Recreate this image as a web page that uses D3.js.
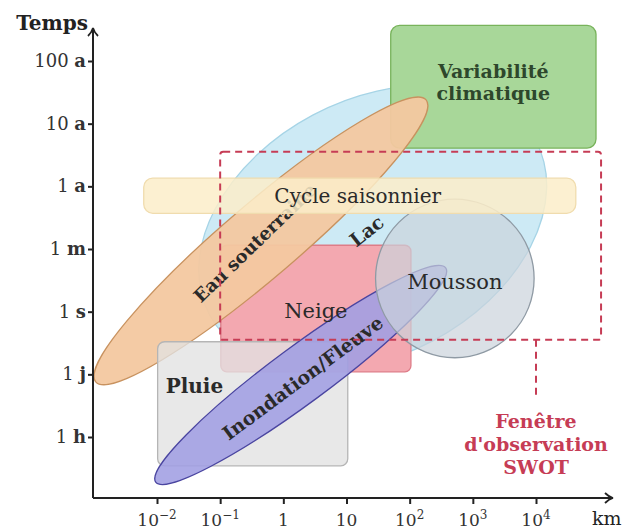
<!DOCTYPE html>
<html><head><meta charset="utf-8">
<script src="https://cdn.jsdelivr.net/npm/d3@7"></script>
<style>body{margin:0;background:#fff}svg{display:block}</style>
</head><body>
<svg id="c" width="626" height="529"></svg>
<script>
// ---------- DATA ----------
// horizontal: log10(km); vertical: time-scale index (0=1 h ... 6=100 a)
const xTickExponents = [-2, -1, 0, 1, 2, 3, 4];
const xTickBase = ["10", "10", "1", "10", "10", "10", "10"];
const xTickSup  = ["−2", "−1", "", "", "2", "3", "4"];

const timeIndex = [0, 1, 2, 3, 4, 5, 6];
const timeNumber = ["1", "1", "1", "1", "1", "10", "100"];
const timeUnit   = ["h", "j", "s", "m", "a", "a", "a"];

const rectNames = ["Variabilité climatique", "Neige", "Pluie", "Cycle saisonnier"];
const rectXMin = [1.70, -0.99, -1.99, -2.21];
const rectXMax = [4.95, 2.02, 1.02, 4.63];
const rectYMin = [4.61, 1.04, -0.46, 3.57];
const rectYMax = [6.57, 3.06, 1.52, 4.13];

const ellipseNames = ["Lac", "Eau souterraine", "Inondation/Fleuve"];
const ellipseX1 = [-1.17, -2.97, -2.02];
const ellipseY1 = [1.95, 0.88, -0.72];
const ellipseX2 = [4.00, 2.26, 2.57];
const ellipseY2 = [4.72, 5.38, 2.70];
const ellipseHalfWidth = [2.04, 0.59, 0.45];

const circleNames = ["Mousson"];
const circleXMin = [1.46];
const circleXMax = [3.97];
const circleY = [2.53];

const swotName = ["Fenêtre", "d'observation", "SWOT"];
const swotX = [-1.0, 5.03];
const swotY = [1.55, 4.55];
const swotLinkX = 4;

// ---------- STYLES ----------
const FONT = "DejaVu Serif";
const style = {
  "Variabilité climatique": {fill: "#a8d799", stroke: "#78b35b", op: 1, rx: 9},
  "Neige": {fill: "#f3a8b0", stroke: "#de7c88", op: 1, rx: 6},
  "Pluie": {fill: "#e2e2e2", stroke: "#b5b5b5", op: 0.78, rx: 7},
  "Cycle saisonnier": {fill: "#fcedc9", stroke: "#f0dcae", op: 0.85, rx: 9},
  "Lac": {fill: "#cdeaf5", stroke: "#a6d4e6", op: 1},
  "Eau souterraine": {fill: "#f3c8a0", stroke: "#c8925f", op: 0.95},
  "Inondation/Fleuve": {fill: "#a09ee3", stroke: "#4a45a0", op: 0.88},
  "Mousson": {fill: "#cbd3dc", stroke: "#8f9aa4", op: 0.7}
};

const svg = d3.select("#c");
const x = d3.scaleLog().domain([1e-2, 1e4]).range([157, 536]);
const y = d3.scaleLinear().domain([0, 6]).range([437, 61]);
const X = v => x(Math.pow(10, v));
const unitY = y(0) - y(1);

const ox = 93, oy = 498, xEnd = 613, yTop = 28;

const gShapes = svg.append("g");

function drawRect(i) {
  const n = rectNames[i], s = style[n];
  gShapes.append("rect")
    .attr("x", X(rectXMin[i])).attr("y", y(rectYMax[i]))
    .attr("width", X(rectXMax[i]) - X(rectXMin[i]))
    .attr("height", y(rectYMin[i]) - y(rectYMax[i]))
    .attr("rx", s.rx).attr("fill", s.fill).attr("fill-opacity", s.op)
    .attr("stroke", s.stroke).attr("stroke-width", 1.3);
}
function ellipseGeom(i) {
  const x1 = X(ellipseX1[i]), y1 = y(ellipseY1[i]), x2 = X(ellipseX2[i]), y2 = y(ellipseY2[i]);
  return {cx: (x1 + x2) / 2, cy: (y1 + y2) / 2, a: Math.hypot(x2 - x1, y2 - y1) / 2,
          b: ellipseHalfWidth[i] * unitY, ang: Math.atan2(y2 - y1, x2 - x1) * 180 / Math.PI};
}
function drawEllipse(i) {
  const n = ellipseNames[i], s = style[n], g = ellipseGeom(i);
  gShapes.append("ellipse")
    .attr("cx", g.cx).attr("cy", g.cy).attr("rx", g.a).attr("ry", g.b)
    .attr("transform", `rotate(${g.ang},${g.cx},${g.cy})`)
    .attr("fill", s.fill).attr("fill-opacity", s.op)
    .attr("stroke", s.stroke).attr("stroke-width", 1.3);
}
function rotLabel(i, txt, size, rot, dx, dy) {
  const g = ellipseGeom(i);
  gShapes.append("text")
    .attr("transform", `translate(${g.cx + dx},${g.cy + dy}) rotate(${rot})`)
    .attr("text-anchor", "middle").attr("dy", "0.35em")
    .attr("font-family", FONT).attr("font-weight", "bold").attr("font-size", size)
    .attr("fill", "#2a2a2a").text(txt);
}

// draw order
drawEllipse(0);            // Lac
drawRect(0);               // Variabilité climatique
drawRect(1);               // Neige
drawEllipse(1);            // Eau souterraine
rotLabel(1, ellipseNames[1], 18, -44, -6, 2);
drawRect(2);               // Pluie
drawEllipse(2);            // Inondation/Fleuve
{
  const s = style["Mousson"];
  const cx = (X(circleXMin[0]) + X(circleXMax[0])) / 2;
  const r = (X(circleXMax[0]) - X(circleXMin[0])) / 2;
  gShapes.append("circle").attr("cx", cx).attr("cy", y(circleY[0])).attr("r", r)
    .attr("fill", s.fill).attr("fill-opacity", s.op)
    .attr("stroke", s.stroke).attr("stroke-width", 1.3);
}
drawRect(3);               // Cycle saisonnier

// SWOT window
const swotColor = "#c63c55";
svg.append("rect")
  .attr("x", X(swotX[0])).attr("y", y(swotY[1]))
  .attr("width", X(swotX[1]) - X(swotX[0])).attr("height", y(swotY[0]) - y(swotY[1]))
  .attr("rx", 3).attr("fill", "none").attr("stroke", swotColor)
  .attr("stroke-width", 2).attr("stroke-dasharray", "7,5");
svg.append("line")
  .attr("x1", X(swotLinkX)).attr("x2", X(swotLinkX))
  .attr("y1", y(swotY[0])).attr("y2", y(swotY[0]) + 58)
  .attr("stroke", swotColor).attr("stroke-width", 2).attr("stroke-dasharray", "7,5");
swotName.forEach((t, k) => {
  svg.append("text").attr("x", X(swotLinkX)).attr("y", 428 + k * 23)
    .attr("text-anchor", "middle").attr("font-family", FONT).attr("font-weight", "bold")
    .attr("font-size", 19).attr("fill", swotColor).text(t);
});

// labels
const lab = svg.append("g").attr("font-family", FONT).attr("fill", "#2a2a2a");
{
  const cx = (X(rectXMin[0]) + X(rectXMax[0])) / 2, cy = (y(rectYMin[0]) + y(rectYMax[0])) / 2;
  const w = rectNames[0].split(" ");
  lab.append("text").attr("x", cx).attr("y", cy - 9).attr("text-anchor", "middle")
    .attr("font-weight", "bold").attr("font-size", 19).attr("fill", "#2e472c").text(w[0]);
  lab.append("text").attr("x", cx).attr("y", cy + 13).attr("text-anchor", "middle")
    .attr("font-weight", "bold").attr("font-size", 19).attr("fill", "#2e472c").text(w[1]);
}
lab.append("text").attr("x", (X(rectXMin[3]) + X(rectXMax[3])) / 2 - 2)
  .attr("y", (y(rectYMin[3]) + y(rectYMax[3])) / 2).attr("dy", "0.35em")
  .attr("text-anchor", "middle").attr("font-size", 20).text(rectNames[3]);
lab.append("text").attr("x", (X(rectXMin[1]) + X(rectXMax[1])) / 2)
  .attr("y", (y(rectYMin[1]) + y(rectYMax[1])) / 2 + 2).attr("dy", "0.35em")
  .attr("text-anchor", "middle").attr("font-size", 21).text(rectNames[1]);
lab.append("text").attr("x", X(rectXMin[2]) + 8).attr("y", y(rectYMax[2]) + 51)
  .attr("font-weight", "bold").attr("font-size", 20).text(rectNames[2]);
lab.append("text").attr("x", (X(circleXMin[0]) + X(circleXMax[0])) / 2)
  .attr("y", y(circleY[0]) + 3).attr("dy", "0.35em")
  .attr("text-anchor", "middle").attr("font-size", 21).text(circleNames[0]);
rotLabel(0, ellipseNames[0], 19, -38, -6, 3);
rotLabel(2, ellipseNames[2], 19, ellipseGeom(2).ang, 2, 3);

// ---------- AXES ----------
const axCol = "#222";
const gx = svg.append("g").attr("transform", `translate(0,${oy})`)
  .call(d3.axisBottom(x).tickValues(xTickExponents.map(e => Math.pow(10, e))).tickSize(6).tickFormat(""));
gx.select(".domain").remove();
gx.selectAll("line").attr("stroke", axCol).attr("stroke-width", 2);
xTickExponents.forEach((e, i) => {
  const t = svg.append("text").attr("x", X(e)).attr("y", 526).attr("text-anchor", "middle")
    .attr("font-family", FONT).attr("font-size", 17).attr("fill", "#333");
  t.append("tspan").text(xTickBase[i]);
  if (xTickSup[i]) t.append("tspan").attr("dy", -7).attr("font-size", 12).text(xTickSup[i]);
});
const gy = svg.append("g").attr("transform", `translate(${ox},0)`)
  .call(d3.axisLeft(y).tickValues(timeIndex).tickSize(5).tickFormat(""));
gy.select(".domain").remove();
gy.selectAll("line").attr("stroke", axCol).attr("stroke-width", 2);
timeIndex.forEach((v, i) => {
  const t = svg.append("text").attr("x", 86).attr("y", y(v) + 6).attr("text-anchor", "end")
    .attr("font-family", FONT).attr("font-size", 18).attr("fill", "#333");
  t.append("tspan").text(timeNumber[i] + " ");
  t.append("tspan").attr("font-weight", "bold").text(timeUnit[i]);
});
svg.append("path").attr("d", `M${ox},${oy}H${xEnd}M${ox},${oy}V${yTop}`)
  .attr("stroke", axCol).attr("stroke-width", 2).attr("fill", "none");
svg.append("path")
  .attr("d", `M${ox - 5},${yTop + 8}Q${ox - 1},${yTop + 4} ${ox},${yTop}Q${ox + 1},${yTop + 4} ${ox + 5},${yTop + 8}` +
             `M${xEnd - 8},${oy - 5}Q${xEnd - 4},${oy - 1} ${xEnd},${oy}Q${xEnd - 4},${oy + 1} ${xEnd - 8},${oy + 5}`)
  .attr("stroke", axCol).attr("stroke-width", 1.8).attr("fill", "none");
svg.append("text").attr("x", 88).attr("y", 30).attr("text-anchor", "end")
  .attr("font-family", FONT).attr("font-weight", "bold").attr("font-size", 20).attr("fill", "#222").text("Temps");
svg.append("text").attr("x", 592).attr("y", 525)
  .attr("font-family", FONT).attr("font-size", 19).attr("fill", "#222").text("km");
</script>
</body></html>
